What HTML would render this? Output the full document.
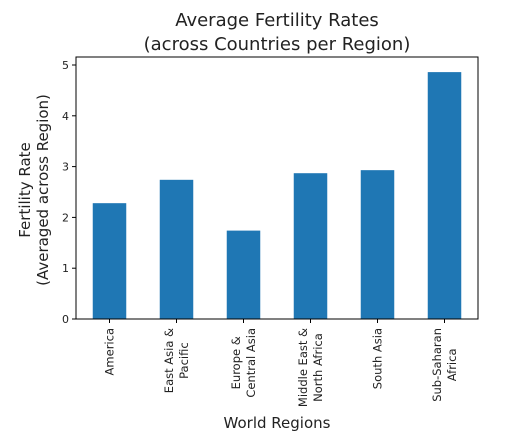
<!DOCTYPE html>
<html><head><meta charset="utf-8"><style>
body{margin:0;background:#fff;}
svg{display:block;font-family:"DejaVu Sans","Liberation Sans",sans-serif;}
</style></head><body>
<svg id="chart" width="532" height="447" viewBox="0 0 532 447">
<text x="277" y="26" font-size="18" text-anchor="middle" fill="#222">Average Fertility Rates</text>
<text x="277" y="50" font-size="18" text-anchor="middle" fill="#222">(across Countries per Region)</text>
<g transform="translate(30,190) rotate(-90)" font-size="15" fill="#222" text-anchor="middle">
<text x="0" y="0">Fertility Rate</text><text x="0" y="18">(Averaged across Region)</text></g>
<text x="277" y="428" font-size="15" text-anchor="middle" fill="#222">World Regions</text>
<g id="bars"></g><g id="ticks"></g>
<rect x="76" y="57" width="402" height="262" fill="none" stroke="#000" stroke-width="1"/>
</svg>
<script>
const categories=[["America"],["East Asia &","Pacific"],["Europe &","Central Asia"],["Middle East &","North Africa"],["South Asia"],["Sub-Saharan","Africa"]];
const values=[2.28,2.74,1.74,2.87,2.93,4.86];
const yTicks=[0,1,2,3,4,5];
const L=76,R=478,B=319,ppu=50.8;
const step=(R-L)/categories.length;
const xs=i=>L+step*(i+0.5);
const ys=v=>B-v*ppu;
const NS="http://www.w3.org/2000/svg";
const bars=document.getElementById('bars'),ticks=document.getElementById('ticks');
values.forEach((v,i)=>{
 const r=document.createElementNS(NS,'rect');
 
 
 r.setAttribute('x',xs(i)-step*0.25);r.setAttribute('width',step*0.5);
 r.setAttribute('y',ys(v));r.setAttribute('height',B-ys(v));r.setAttribute('fill','#1f77b4');
 bars.appendChild(r);
 const t=document.createElementNS(NS,'line');
 
 
 t.setAttribute('x1',xs(i));t.setAttribute('x2',xs(i));t.setAttribute('y1',B);t.setAttribute('y2',B+4);t.setAttribute('stroke','#000');
 ticks.appendChild(t);
 const lines=categories[i];
 const els=lines.map((s,j)=>{
  const tx=document.createElementNS(NS,'text');
  
  
  tx.setAttribute('font-size','11.5');tx.setAttribute('fill','#222');tx.setAttribute('text-anchor','middle');
  tx.textContent=s;ticks.appendChild(tx);return tx;
 });
 const maxLen=Math.max(...els.map(e=>e.getComputedTextLength()));
 els.forEach((tx,j)=>{
  const off=(j-(lines.length-1)/2)*15+4;
  tx.setAttribute('transform','translate('+(xs(i)+off)+','+(B+9+maxLen/2)+') rotate(-90)');
 });
});
yTicks.forEach(v=>{
 const t=document.createElementNS(NS,'line');
 
 
 t.setAttribute('x1',L-4);t.setAttribute('x2',L);t.setAttribute('y1',ys(v));t.setAttribute('y2',ys(v));t.setAttribute('stroke','#000');
 ticks.appendChild(t);
 const tx=document.createElementNS(NS,'text');
 
 
 tx.setAttribute('x',L-7);tx.setAttribute('y',ys(v)+4);tx.setAttribute('text-anchor','end');tx.setAttribute('font-size','11');tx.setAttribute('fill','#222');
 tx.textContent=v;ticks.appendChild(tx);
});
</script>
</body></html>
